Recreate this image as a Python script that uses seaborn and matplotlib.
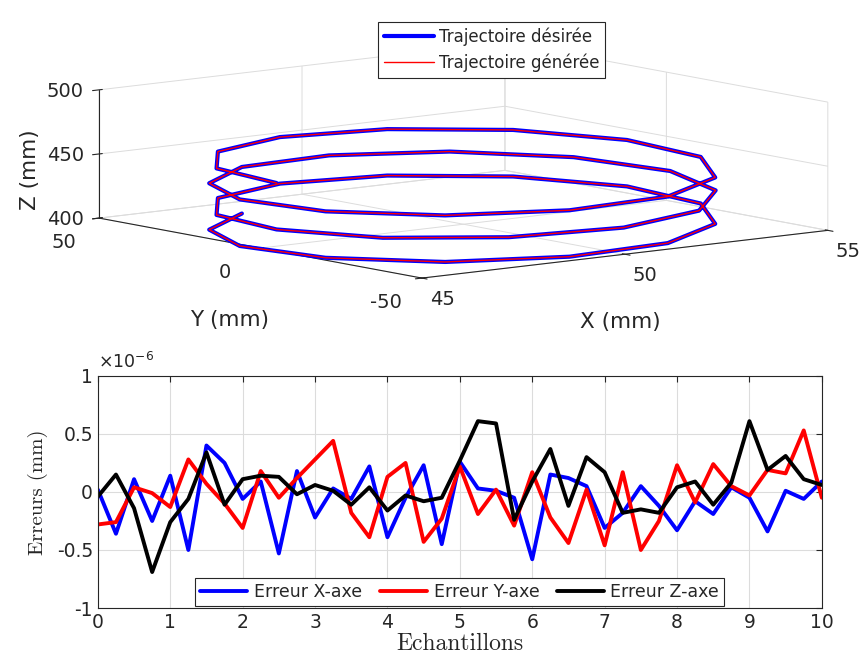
import matplotlib
matplotlib.use("Agg")
import matplotlib.pyplot as plt
from matplotlib.ticker import FuncFormatter
import pandas as pd
import seaborn as sns

# ---- helix trajectory (mm) ----
traj_x = [48.15, 46.19, 45.18, 45.36, 46.68, 48.83, 51.27, 53.39, 54.68, 54.80,
          53.74, 51.76, 49.34, 47.08, 45.54, 45.11, 45.89, 47.68, 50.05, 52.41,
          54.16, 54.89, 54.41, 52.84, 50.56, 48.15, 46.19, 45.18, 45.36, 46.68,
          48.83, 51.27, 53.39, 54.68, 54.80, 53.74, 51.76, 49.34, 47.08, 45.54,
          45.11]
traj_y = [45.37, 30.84, 8.68, -15.63, -36.07, -47.58, -47.33, -35.37, -14.65, 9.69,
          31.63, 45.75, 48.54, 39.34, 20.40, -3.59, -26.69, -43.18, -49.00, -42.69,
          -25.82, -2.56, 21.32, 39.94, 48.68, 45.37, 30.84, 8.68, -15.63, -36.07,
          -47.58, -47.33, -35.37, -14.65, 9.69, 31.63, 45.75, 48.54, 39.34, 20.40,
          -3.59]
traj_z = [394.0, 395.5, 396.9, 398.4, 399.8, 401.3, 402.7, 404.2, 405.6, 407.1,
          408.5, 410.0, 411.4, 412.9, 414.3, 415.8, 417.2, 418.7, 420.1, 421.6,
          423.0, 424.5, 425.9, 427.4, 428.8, 430.3, 431.7, 433.2, 434.6, 436.1,
          437.5, 439.0, 440.4, 441.9, 443.3, 444.8, 446.2, 447.7, 449.1, 450.6,
          452.0]

# ---- tracking errors (x 1e-6 mm) ----
samples = [0, 0.25, 0.5, 0.75, 1, 1.25, 1.5, 1.75, 2, 2.25, 2.5, 2.75, 3, 3.25,
           3.5, 3.75, 4, 4.25, 4.5, 4.75, 5, 5.25, 5.5, 5.75, 6, 6.25, 6.5, 6.75,
           7, 7.25, 7.5, 7.75, 8, 8.25, 8.5, 8.75, 9, 9.25, 9.5, 9.75, 10]
err_x = [0.02, -0.36, 0.11, -0.25, 0.14, -0.50, 0.40, 0.25, -0.06, 0.09, -0.53,
         0.18, -0.22, 0.03, -0.06, 0.22, -0.39, -0.05, 0.23, -0.45, 0.26, 0.03,
         0.01, -0.05, -0.58, 0.15, 0.12, 0.05, -0.31, -0.18, 0.05, -0.12, -0.33,
         -0.08, -0.19, 0.04, -0.05, -0.34, 0.01, -0.06, 0.09]
err_y = [-0.28, -0.26, 0.04, -0.01, -0.13, 0.28, 0.07, -0.10, -0.31, 0.18, -0.05,
         0.12, 0.28, 0.44, -0.18, -0.39, 0.13, 0.25, -0.43, -0.23, 0.22, -0.19,
         0.02, -0.29, 0.17, -0.22, -0.44, 0.02, -0.46, 0.17, -0.50, -0.25, 0.23,
         -0.09, 0.24, 0.05, -0.03, 0.19, 0.16, 0.53, -0.05]
err_z = [-0.04, 0.15, -0.14, -0.69, -0.26, -0.06, 0.34, -0.11, 0.11, 0.14, 0.13,
         -0.02, 0.06, 0.01, -0.11, 0.04, -0.16, -0.03, -0.08, -0.05, 0.27, 0.61,
         0.59, -0.24, 0.09, 0.37, -0.12, 0.30, 0.17, -0.18, -0.15, -0.18, 0.04,
         0.09, -0.11, 0.08, 0.61, 0.19, 0.31, 0.11, 0.06]
series_names = ["Erreur X-axe", "Erreur Y-axe", "Erreur Z-axe"]
series_colors = ["#0000ff", "#ff0000", "#000000"]

sns.set_style("white")
plt.rcParams["font.family"] = ["DejaVu Sans"]
plt.rcParams["axes.unicode_minus"] = False
plt.rcParams["grid.color"] = "#dcdcdc"
plt.rcParams["grid.linewidth"] = 0.7

dark = "#262626"
fig = plt.figure(figsize=(8.66, 6.70), dpi=100)

# ================= 3D trajectory =================
ax3 = fig.add_axes([-0.2034, 0.3412, 1.46, 0.8176], projection="3d")
ax3.patch.set_visible(False)
ax3.set_proj_type("ortho")
ax3.view_init(elev=8.5, azim=-128.5)
ax3.set_box_aspect((1, 1, 0.25), zoom=1.32)
ax3.plot(traj_x, traj_y, traj_z, color="#0000ff", lw=3.0,
         label="Trajectoire désirée")
ax3.plot(traj_x, traj_y, traj_z, color="#ff0000", lw=1.0,
         label="Trajectoire générée")
ax3.set_xlim(45, 55)
ax3.set_ylim(-50, 50)
ax3.set_zlim(400, 500)
ax3.set_xticks([45, 50, 55])
ax3.set_yticks([-50, 0, 50])
ax3.set_zticks([400, 450, 500])
for axis in (ax3.xaxis, ax3.yaxis, ax3.zaxis):
    axis.set_pane_color((1, 1, 1, 0))
    axis.pane.set_edgecolor("#dcdcdc")
    axis.line.set_color(dark)
ax3.tick_params(labelsize=14, colors=dark)
ax3.tick_params(axis="x", pad=5)
ax3.tick_params(axis="y", pad=10)
ax3.tick_params(axis="z", pad=1.5)
for lbl in ax3.zaxis.get_majorticklabels():
    lbl.set_verticalalignment("center_baseline")
ax3.set_xlabel("")
ax3.set_ylabel("")
ax3.set_zlabel("")
fig.text(30 / 866, 1 - 170 / 670, "Z (mm)", rotation=90, ha="center",
         va="center", fontsize=15.5, color=dark)
fig.text(230 / 866, 1 - 320 / 670, "Y (mm)", ha="center", va="center",
         fontsize=15.5, color=dark)
fig.text(620 / 866, 1 - 322 / 670, "X (mm)", ha="center", va="center",
         fontsize=15.5, color=dark)
h3, l3 = ax3.get_legend_handles_labels()
leg3 = fig.legend(h3, l3, loc="upper center", bbox_to_anchor=(0.568, 0.98),
                  fontsize=12, frameon=True, fancybox=False, edgecolor=dark,
                  framealpha=1, handlelength=3.0, borderpad=0.35,
                  labelspacing=0.45, handletextpad=0.3)
leg3.get_frame().set_linewidth(0.8)

# ================= tracking errors =================
ax2 = fig.add_axes([0.113, 0.0925, 0.836, 0.3465])
err_df = pd.DataFrame({
    "Echantillons": samples * 3,
    "Erreur": err_x + err_y + err_z,
    "Serie": [series_names[0]] * len(samples) + [series_names[1]] * len(samples)
             + [series_names[2]] * len(samples),
})
sns.lineplot(data=err_df, x="Echantillons", y="Erreur", hue="Serie",
             palette=series_colors, linewidth=2.8, ax=ax2, legend=False)
ax2.set_xlim(0, 10)
ax2.set_ylim(-1, 1)
ax2.set_xticks(range(0, 11))
ax2.set_yticks([-1, -0.5, 0, 0.5, 1])
ax2.yaxis.set_major_formatter(FuncFormatter(lambda v, p: f"{v:g}"))
ax2.grid(True, color="#dcdcdc", lw=0.8)
ax2.tick_params(direction="in", length=4, top=True, right=True,
                labelsize=13.5, colors=dark)
for sp in ax2.spines.values():
    sp.set_color(dark)
    sp.set_linewidth(0.8)
ax2.set_xlabel("Echantillons", family="cmr10", fontsize=17, color=dark,
               labelpad=1)
ax2.set_ylabel("Erreurs (mm)", family="cmr10", fontsize=15, color=dark,
               labelpad=6)
ax2.text(0.0, 1.015, r"$\times\mathregular{10^{-6}}$", transform=ax2.transAxes,
         ha="left", va="bottom", fontsize=12.5, color=dark)
handles = [plt.Line2D([], [], color=c, lw=2.8) for c in series_colors]
leg2 = ax2.legend(handles, series_names, loc="lower center", ncol=3,
                  fontsize=12.5, frameon=True, fancybox=False, edgecolor=dark,
                  framealpha=1, handlelength=2.7, borderpad=0.3,
                  columnspacing=1.0, handletextpad=0.4, borderaxespad=0.1)
leg2.get_frame().set_linewidth(0.8)

fig.savefig("out.png", dpi=100)
